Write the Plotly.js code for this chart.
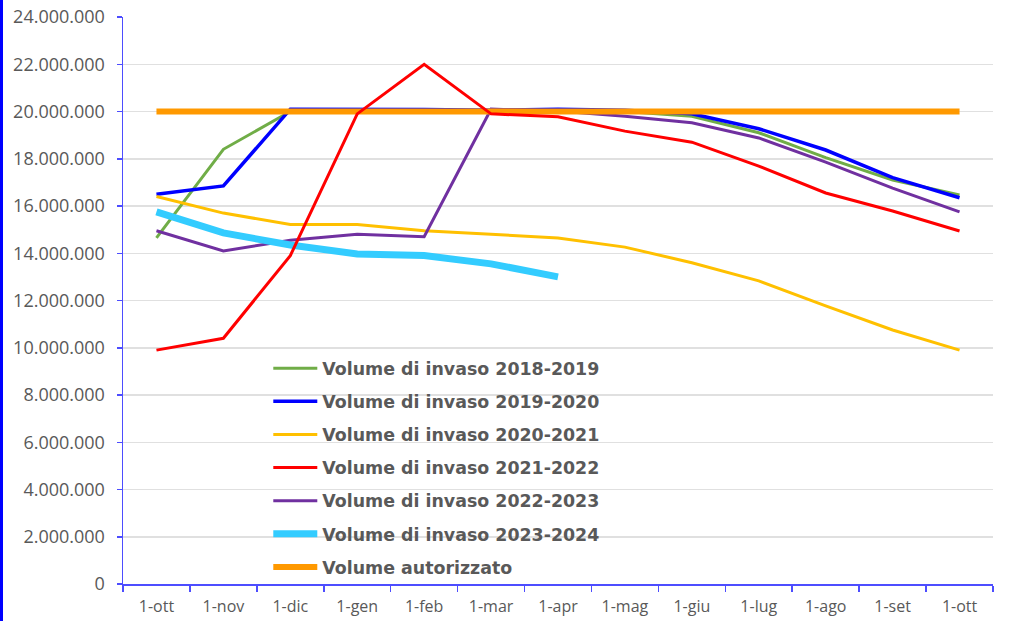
<!DOCTYPE html>
<html>
<head>
<meta charset="utf-8">
<script src="https://cdn.plot.ly/plotly-3.0.1.min.js"></script>
<style>
  html, body { margin: 0; padding: 0; background: #fff; }
  #chart { width: 1009px; height: 621px; }
  #edge { position: absolute; left: 0; top: 0; width: 3px; height: 621px; background: #0000ff; z-index: 10; }
</style>
</head>
<body>
<div id="edge"></div>
<div id="chart"></div>
<script>
const categories = ["1-ott","1-nov","1-dic","1-gen","1-feb","1-mar","1-apr","1-mag","1-giu","1-lug","1-ago","1-set","1-ott "];
const tickLabels = ["1-ott","1-nov","1-dic","1-gen","1-feb","1-mar","1-apr","1-mag","1-giu","1-lug","1-ago","1-set","1-ott"];

const vol2018_2019 = [14650000, 18400000, 20000000, 20050000, 20050000, 20050000, 20050000, 20000000, 19800000, 19100000, 18050000, 17100000, 16470000];
const vol2019_2020 = [16500000, 16850000, 20100000, 20100000, 20080000, 20050000, 20100000, 20050000, 19900000, 19270000, 18370000, 17200000, 16350000];
const vol2020_2021 = [16400000, 15700000, 15220000, 15220000, 14950000, 14800000, 14650000, 14260000, 13600000, 12830000, 11770000, 10750000, 9900000];
const vol2021_2022 = [9900000, 10400000, 13900000, 19900000, 22000000, 19900000, 19780000, 19170000, 18700000, 17690000, 16550000, 15790000, 14940000];
const vol2022_2023 = [14950000, 14100000, 14550000, 14800000, 14700000, 20100000, 20020000, 19800000, 19520000, 18880000, 17860000, 16760000, 15750000];
const vol2023_2024 = [15750000, 14860000, 14350000, 13970000, 13900000, 13550000, 13000000];
const volAutorizzato = [20000000, 20000000, 20000000, 20000000, 20000000, 20000000, 20000000, 20000000, 20000000, 20000000, 20000000, 20000000, 20000000];

const names = ["Volume di invaso 2018-2019","Volume di invaso 2019-2020","Volume di invaso 2020-2021","Volume di invaso 2021-2022","Volume di invaso 2022-2023","Volume di invaso 2023-2024","Volume autorizzato"];

function tr(y, name, color, width, rank) {
  return {
    type: 'scatter', mode: 'lines',
    x: categories.slice(0, y.length), y: y, name: name,
    line: {color: color, width: width},
    legendgroup: 'g' + rank, legendrank: rank,
    hoverinfo: 'skip'
  };
}

const data = [
  tr(vol2018_2019, names[0], '#70ad47', 3, 1),
  tr(vol2019_2020, names[1], '#0000ff', 3.5, 2),
  tr(vol2020_2021, names[2], '#ffc000', 3, 3),
  tr(vol2022_2023, names[4], '#7030a0', 3, 5),
  tr(vol2023_2024, names[5], '#33ccff', 7, 6),
  tr(volAutorizzato, names[6], '#ff9900', 6, 7),
  tr(vol2021_2022, names[3], '#ff0000', 3, 4)
];

const layout = {
  width: 1009, height: 621,
  margin: {l: 123, r: 16, t: 17, b: 37, pad: 0},
  paper_bgcolor: '#ffffff', plot_bgcolor: '#ffffff',
  separators: ',.',
  showlegend: true,
  legend: {
    x: 0.167, y: 0.412, xanchor: 'left', yanchor: 'top',
    bgcolor: 'rgba(0,0,0,0)',
    font: {family: 'DejaVu Sans, Open Sans, sans-serif', size: 17.4, color: '#595959', weight: 'bold'},
    tracegroupgap: 7.5, traceorder: 'grouped',
    itemwidth: 44
  },
  xaxis: {
    type: 'category',
    tickmode: 'array', tickvals: categories, ticktext: tickLabels,
    range: [-0.5, 12.5],
    showline: true, linecolor: '#4d4dff', linewidth: 1.5,
    ticks: 'outside', tickson: 'boundaries', ticklen: 6, tickcolor: '#4d4dff', tickwidth: 1.5,
    showgrid: false, zeroline: false,
    tickfont: {family: 'Open Sans, Liberation Sans, sans-serif', size: 16, color: '#595959'},
    ticklabelstandoff: 7
  },
  yaxis: {
    range: [0, 24000000],
    tickmode: 'linear', tick0: 0, dtick: 2000000,
    tickformat: ',d',
    showline: true, linecolor: '#4d4dff', linewidth: 1.5,
    ticks: 'outside', ticklen: 5, tickcolor: '#4d4dff', tickwidth: 1.5,
    showgrid: true, gridcolor: '#e0e0e0', gridwidth: 1.5,
    zeroline: false,
    tickfont: {family: 'Open Sans, Liberation Sans, sans-serif', size: 18, color: '#595959'},
    ticklabelstandoff: 8
  }
};

Plotly.newPlot('chart', data, layout, {displayModeBar: false, staticPlot: true});
</script>
</body>
</html>
